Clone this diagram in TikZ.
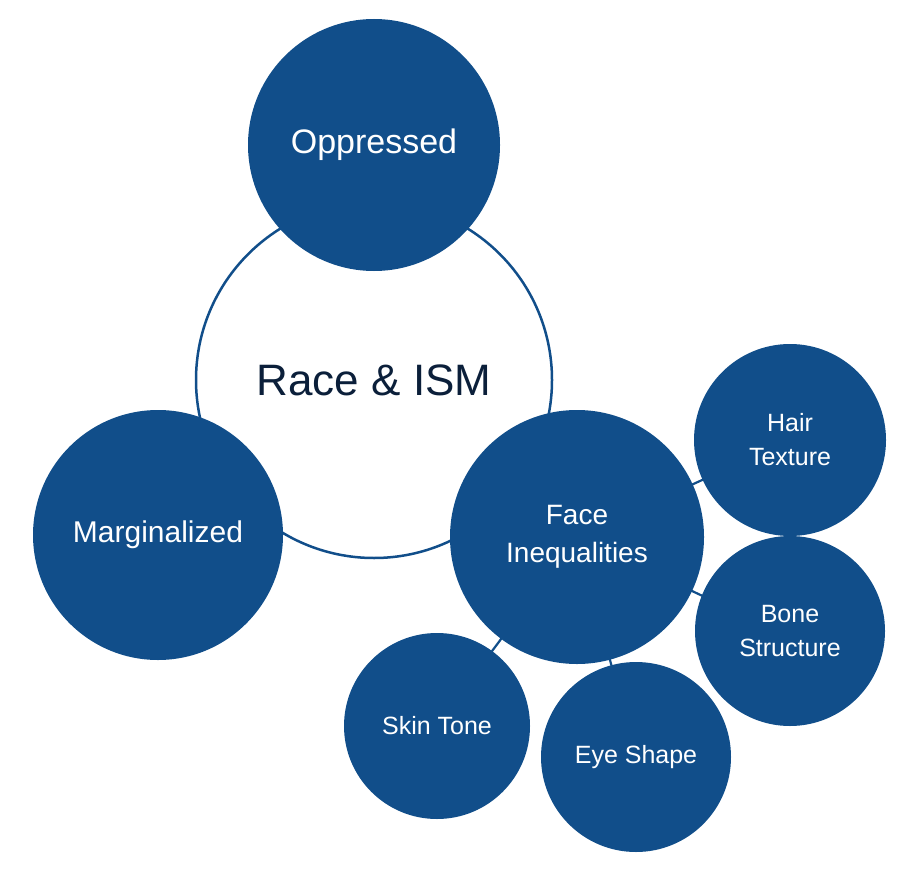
\documentclass[tikz,border=0pt]{standalone}
\usepackage{fontspec}
\setmainfont{Liberation Sans}
\definecolor{cblue}{HTML}{114E8A}
\definecolor{ctext}{HTML}{0B1F3A}
\begin{document}
\begin{tikzpicture}[x=1pt,y=-1pt,
  bub/.style={circle,fill=cblue,text=white,inner sep=0pt,align=center},
  link/.style={draw=cblue,line width=2.2pt}]
\useasboundingbox (0,0) rectangle (915,880);
\node[circle,draw=cblue,line width=2.5pt,fill=white,minimum size=356pt,inner sep=0pt,text=ctext,font=\fontsize{44}{50}\selectfont] (race) at (374,380) {Race \& ISM};
\coordinate (fc) at (577,537);
\draw[link] (fc) -- (790,440);
\draw[link] (fc) -- (790,637);
\draw[link] (fc) -- (636,757);
\draw[link] (fc) -- (437,725);
\node[bub,minimum size=252pt,font=\fontsize{34}{40}\selectfont] (opp) at (374,145) {Oppressed};
\node[bub,minimum size=250pt,font=\fontsize{30}{36}\selectfont] (marg) at (158,535) {Marginalized};
\node[bub,minimum size=254pt,font=\fontsize{28}{38}\selectfont] (face) at (fc) {Face\\Inequalities};
\node[bub,minimum size=192pt,font=\fontsize{25}{34}\selectfont] (hair) at (790,440) {Hair\\Texture};
\node[bub,minimum size=190pt,font=\fontsize{25}{34}\selectfont] (bone) at (790,631) {Bone\\Structure};
\node[bub,minimum size=190pt,font=\fontsize{25}{30}\selectfont] (eye) at (636,757) {Eye Shape};
\node[bub,minimum size=186pt,font=\fontsize{25}{30}\selectfont] (skin) at (437,726) {Skin Tone};
\end{tikzpicture}
\end{document}
